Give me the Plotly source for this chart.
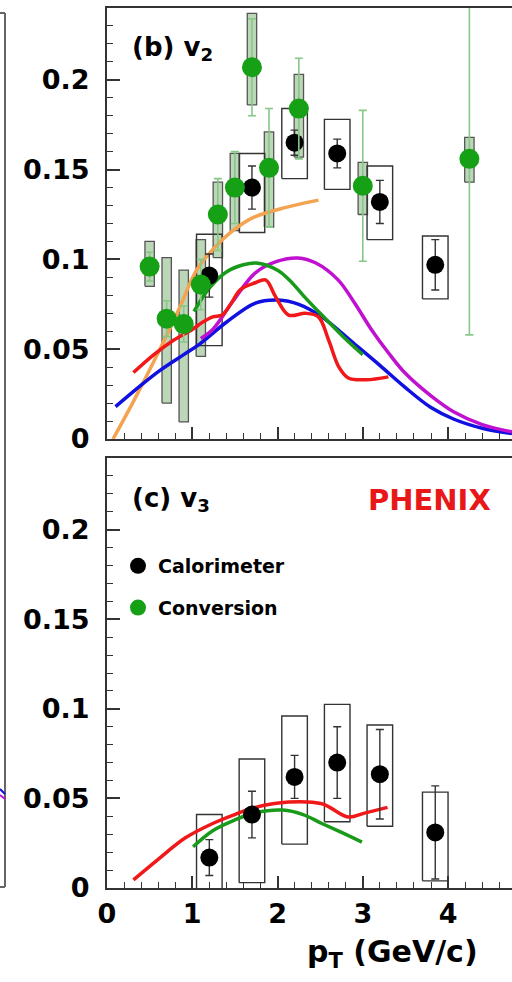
import plotly.graph_objects as go

# ---------------- data ----------------
# Calorimeter (black)
cal_x = [1.2, 1.7, 2.2, 2.7, 3.2, 3.85]
cal_v2 = [0.091, 0.140, 0.165, 0.159, 0.132, 0.097]
cal_v2_stat = [0.012, 0.012, 0.007, 0.008, 0.012, 0.014]
cal_v2_sys_lo = [0.052, 0.115, 0.145, 0.139, 0.111, 0.078]
cal_v2_sys_hi = [0.114, 0.159, 0.184, 0.178, 0.152, 0.113]

cal_v3 = [0.017, 0.041, 0.062, 0.070, 0.0635, 0.031]
cal_v3_stat = [0.010, 0.013, 0.012, 0.020, 0.025, 0.026]
cal_v3_sys_lo = [-0.005, 0.003, 0.0245, 0.037, 0.0345, 0.004]
cal_v3_sys_hi = [0.041, 0.072, 0.096, 0.1025, 0.091, 0.0535]

# Conversion (green)
conv_x = [0.5, 0.7, 0.9, 1.1, 1.3, 1.5, 1.7, 1.9, 2.25, 3.0, 4.25]
conv_v2 = [0.096, 0.067, 0.064, 0.086, 0.125, 0.140, 0.207, 0.151, 0.184, 0.141, 0.156]
conv_v2_stat = [0.008, 0.010, 0.010, 0.014, 0.020, 0.020, 0.027, 0.033, 0.028, 0.042, 0.098]
conv_v2_sys_lo = [0.085, 0.020, 0.0095, 0.046, 0.101, 0.116, 0.186, 0.118, 0.157, 0.125, 0.143]
conv_v2_sys_hi = [0.110, 0.101, 0.094, 0.111, 0.143, 0.159, 0.237, 0.171, 0.203, 0.154, 0.168]

# Model curves, panel (b) v2
orange_x = [0.07, 0.3, 0.6, 0.85, 1.05, 1.25, 1.45, 1.7, 2.1, 2.48]
orange_y = [0.0, 0.020, 0.048, 0.073, 0.094, 0.106, 0.115, 0.123, 0.129, 0.133]

green_v2_x = [1.02, 1.2, 1.4, 1.6, 1.75, 2.0, 2.15, 2.3, 2.52, 2.77, 3.0]
green_v2_y = [0.071, 0.084, 0.093, 0.097, 0.098, 0.094, 0.088, 0.080, 0.069, 0.057, 0.047]

red_v2_x = [0.31, 0.55, 0.78, 1.0, 1.12, 1.24, 1.35, 1.45, 1.56, 1.74, 1.86, 1.98, 2.13, 2.33, 2.48, 2.6, 2.72, 2.83, 3.04, 3.3]
red_v2_y = [0.037, 0.047, 0.055, 0.061, 0.065, 0.068, 0.069, 0.075, 0.083, 0.087, 0.0886, 0.079, 0.069, 0.070, 0.068, 0.055, 0.040, 0.034, 0.033, 0.0346]

blue_v2_x = [0.1, 0.4, 0.63, 0.9, 1.09, 1.4, 1.74, 2.01, 2.25, 2.52, 2.9, 3.2, 3.49, 3.8, 4.07, 4.4, 4.75]
blue_v2_y = [0.018, 0.030, 0.0385, 0.047, 0.053, 0.065, 0.0757, 0.0774, 0.075, 0.068, 0.053, 0.041, 0.029, 0.0175, 0.011, 0.006, 0.003]

magenta_v2_x = [1.1, 1.24, 1.48, 1.74, 2.0, 2.24, 2.45, 2.71, 2.9, 3.1, 3.3, 3.49, 3.8, 4.07, 4.4, 4.75]
magenta_v2_y = [0.056, 0.061, 0.077, 0.0925, 0.099, 0.1008, 0.098, 0.0886, 0.076, 0.061, 0.048, 0.037, 0.024, 0.015, 0.008, 0.004]

# Model curves, panel (c) v3
red_v3_x = [0.31, 0.6, 0.92, 1.24, 1.5, 1.74, 2.13, 2.52, 2.83, 3.02, 3.29]
red_v3_y = [0.0045, 0.016, 0.028, 0.036, 0.041, 0.045, 0.048, 0.047, 0.0396, 0.0418, 0.045]

green_v3_x = [1.01, 1.24, 1.5, 1.74, 2.06, 2.3, 2.52, 2.75, 2.99]
green_v3_y = [0.023, 0.032, 0.038, 0.042, 0.0435, 0.041, 0.036, 0.031, 0.0256]

y_ticks = [0, 0.05, 0.1, 0.15, 0.2]
x_ticks = [0, 1, 2, 3, 4]

# ---------------- styles ----------------
FONT = "DejaVu Sans"
AX = "#333333"
C_RED = "#f01818"
C_GREEN = "#1a9a1a"
C_BLUE = "#1010e0"
C_MAG = "#c010d0"
C_ORANGE = "#f4a350"
C_PT_GREEN = "#15a015"


def boxes(xs, lo, hi, hw):
    px, py = [], []
    for x, l, h in zip(xs, lo, hi):
        px += [x - hw, x + hw, x + hw, x - hw, x - hw, None]
        py += [l, l, h, h, l, None]
    return px, py


fig = go.Figure()

# ---- panel (b) ----
bx, by = boxes(conv_x, conv_v2_sys_lo, conv_v2_sys_hi, 0.055)
fig.add_trace(go.Scatter(x=bx, y=by, mode="lines", fill="toself", fillcolor="#bcd6b8",
                         line=dict(color="#555555", width=1.3), hoverinfo="skip",
                         showlegend=False, xaxis="x", yaxis="y"))
bx, by = boxes(cal_x, cal_v2_sys_lo, cal_v2_sys_hi, 0.15)
fig.add_trace(go.Scatter(x=bx, y=by, mode="lines", line=dict(color="#333333", width=1.4),
                         hoverinfo="skip", showlegend=False, xaxis="x", yaxis="y"))

for cx, cy, col in [(orange_x, orange_y, C_ORANGE), (blue_v2_x, blue_v2_y, C_BLUE),
                    (magenta_v2_x, magenta_v2_y, C_MAG), (green_v2_x, green_v2_y, C_GREEN),
                    (red_v2_x, red_v2_y, C_RED)]:
    fig.add_trace(go.Scatter(x=cx, y=cy, mode="lines", line=dict(color=col, width=3.5, shape="spline"),
                             showlegend=False, hoverinfo="skip", xaxis="x", yaxis="y"))

fig.add_trace(go.Scatter(x=cal_x, y=cal_v2, mode="markers", name="Calorimeter",
                         marker=dict(color="black", size=18),
                         error_y=dict(type="data", array=cal_v2_stat, color="#333333", thickness=1.4, width=4),
                         legendgroup="a", xaxis="x", yaxis="y"))
fig.add_trace(go.Scatter(x=conv_x, y=conv_v2, mode="markers", name="Conversion",
                         marker=dict(color=C_PT_GREEN, size=20),
                         error_y=dict(type="data", array=conv_v2_stat, color="#86c886", thickness=1.6, width=4),
                         legendgroup="b", xaxis="x", yaxis="y"))

# ---- panel (c) ----
bx, by = boxes(cal_x, cal_v3_sys_lo, cal_v3_sys_hi, 0.15)
fig.add_trace(go.Scatter(x=bx, y=by, mode="lines", line=dict(color="#333333", width=1.4),
                         hoverinfo="skip", showlegend=False, xaxis="x2", yaxis="y2"))
for cx, cy, col in [(green_v3_x, green_v3_y, C_GREEN), (red_v3_x, red_v3_y, C_RED)]:
    fig.add_trace(go.Scatter(x=cx, y=cy, mode="lines", line=dict(color=col, width=3.5, shape="spline"),
                             showlegend=False, hoverinfo="skip", xaxis="x2", yaxis="y2"))
fig.add_trace(go.Scatter(x=cal_x, y=cal_v3, mode="markers", showlegend=False,
                         marker=dict(color="black", size=18),
                         error_y=dict(type="data", array=cal_v3_stat, color="#333333", thickness=1.4, width=4),
                         xaxis="x2", yaxis="y2"))

# ---------------- layout ----------------
W, H = 512, 982
L, R, T, B = 107, 0, 8, 94
PH = H - T - B


def py2paper(py):
    return (H - B - py) / PH


def px2paper(px):
    return (px - L) / (W - L - R)


tickfont = dict(family=FONT, size=27, color="black", weight="bold")
xcommon = dict(range=[0, 4.75], tickvals=x_ticks, ticks="inside", ticklen=12, tickwidth=1.5,
               tickcolor=AX, showline=True, linecolor=AX, linewidth=2, mirror=True,
               showgrid=False, zeroline=False,
               minor=dict(dtick=0.2, ticks="inside", ticklen=6, tickwidth=1.2, tickcolor=AX, showgrid=False))
ycommon = dict(range=[0, 0.24], tickvals=y_ticks, ticks="inside", ticklen=13, tickwidth=1.5,
               tickcolor=AX, showline=True, linecolor=AX, linewidth=2, mirror=False,
               showgrid=False, zeroline=False, tickfont=tickfont, ticklabelstandoff=10,
               minor=dict(dtick=0.01, ticks="inside", ticklen=6, tickwidth=1.2, tickcolor=AX, showgrid=False))

fig.update_layout(
    width=W, height=H, margin=dict(l=L, r=R, t=T, b=B, pad=0),
    paper_bgcolor="white", plot_bgcolor="white",
    xaxis=dict(domain=[0, 1], anchor="y", showticklabels=False, **xcommon),
    yaxis=dict(domain=[py2paper(439), 1], anchor="x", **ycommon),
    xaxis2=dict(domain=[0, 1], anchor="y2", showticklabels=True, tickfont=tickfont,
                ticklabelstandoff=1, **xcommon),
    yaxis2=dict(domain=[0, py2paper(458)], anchor="x2", **ycommon),
    showlegend=True,
    legend=dict(x=px2paper(118), y=py2paper(547), xanchor="left", yanchor="top",
                font=dict(family=FONT, size=19, color="black", weight="bold"),
                bgcolor="rgba(0,0,0,0)", tracegroupgap=14, itemwidth=30),
)

annots = [
    dict(text="(b) v<sub>2</sub>", x=px2paper(130), y=py2paper(30), xanchor="left", yanchor="top"),
    dict(text="(c) v<sub>3</sub>", x=px2paper(130), y=py2paper(481), xanchor="left", yanchor="top"),
]
for a in annots:
    fig.add_annotation(xref="paper", yref="paper", showarrow=False,
                       font=dict(family=FONT, size=26, color="black", weight="bold"), **a)
fig.add_annotation(text="PHENIX", xref="paper", yref="paper", x=px2paper(493), y=py2paper(500),
                   xanchor="right", yanchor="middle", showarrow=False,
                   font=dict(family=FONT, size=29, color="#e81818", weight="bold"))
fig.add_annotation(text="p<sub>T</sub> (GeV/c)", xref="paper", yref="paper", x=px2paper(480),
                   y=py2paper(932), xanchor="right", yanchor="top", showarrow=False,
                   font=dict(family=FONT, size=30, color="black", weight="bold"))

# fragment of neighbouring panel at the left edge
frag = [((5, 13), (5, 887), "#666666"), ((0, 13), (5, 13), "#666666"), ((0, 887), (5, 887), "#666666"),
        ((0, 789), (5, 794), C_BLUE), ((0, 795), (5, 799), C_MAG)]
for (x0, y0), (x1, y1), col in frag:
    fig.add_shape(type="line", xref="paper", yref="paper",
                  x0=px2paper(x0), y0=py2paper(y0), x1=px2paper(x1), y1=py2paper(y1),
                  line=dict(color=col, width=2))

fig.write_html("out.html")
